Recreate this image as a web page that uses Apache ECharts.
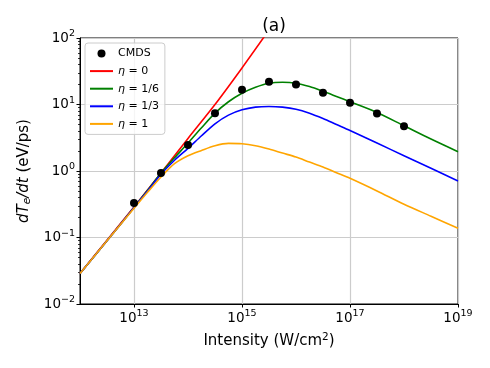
<!DOCTYPE html>
<html>
<head>
<meta charset="utf-8">
<script src="https://cdn.jsdelivr.net/npm/echarts@6/dist/echarts.min.js"></script>
<style>
  html, body { margin: 0; padding: 0; background: #fff; }
  #chart { width: 490px; height: 368px; }
</style>
</head>
<body>
<div id="chart"></div>
<script>
// intensities (W/cm^2) for the model curves, denser around the peaks
const intensity = [1e12, 3.16e12, 1e13, 1.78e13, 3.16e13, 5.62e13, 1e14, 1.78e14,
  3.16e14, 5.62e14, 1e15, 1.78e15, 3.16e15, 5.62e15, 1e16, 1.78e16, 3.16e16,
  5.62e16, 1e17, 3.16e17, 1e18, 3.16e18, 1e19]
const intensityRed = [1e12, 3.16e12, 1e13, 3.16e13, 1e14, 3.16e14, 1e15, 3.16e15]

// dTe/dt (eV/ps)
const eta0 = [0.0288, 0.0912, 0.288, 0.933, 3.09, 10.0, 35.5, 132]
const eta16 = [0.0288, 0.0891, 0.282, 0.513, 0.933, 1.58, 2.63, 4.47, 7.41, 11.0,
  14.8, 18.2, 20.9, 21.6, 20.9, 18.6, 15.8, 13.2, 11.0, 7.59, 4.79, 3.02, 1.95]
const eta13 = [0.0288, 0.0891, 0.282, 0.501, 0.891, 1.45, 2.19, 3.39, 5.13, 6.92,
  8.32, 9.12, 9.33, 9.12, 8.51, 7.41, 6.17, 5.01, 4.07, 2.63, 1.70, 1.10, 0.708]
const eta1 = [0.0288, 0.0891, 0.275, 0.479, 0.813, 1.29, 1.70, 2.04, 2.40, 2.60,
  2.57, 2.40, 2.14, 1.86, 1.62, 1.36, 1.15, 0.944, 0.776, 0.501, 0.316, 0.209, 0.138]

const cmdsX = [1e13, 3.16e13, 1e14, 3.16e14, 1e15, 3.16e15, 1e16, 3.16e16, 1e17, 3.16e17, 1e18]
const cmdsY = [0.33, 0.93, 2.46, 7.4, 16.6, 22, 20, 15, 10.6, 7.3, 4.7]

const xTicks = [1e13, 1e15, 1e17, 1e19]
const names = ['CMDS', 'η = 0', 'η = 1/6', 'η = 1/3', 'η = 1']
const colors = ['#000000', '#ff0000', '#008000', '#0000ff', '#ffa500']

// minor ticks of the y axis at 2..9 of every decade
const yMinorTicks = []
for (let k = -2; k < 2; k++) {
  for (let m = 2; m < 10; m++) yMinorTicks.push(m * Math.pow(10, k))
}

const font = 'DejaVu Sans'
const pair = (xs, ys) => ys.map((y, i) => [xs[i], y])

const powLabel = v => {
  const e = Math.round(Math.log10(v))
  return '{b|10}{s|' + (e < 0 ? '\u2212' + (-e) : e) + '}'
}
const powRich = {
  b: { fontFamily: font, fontSize: 13.5, color: '#000' },
  s: { fontFamily: font, fontSize: 9.5, color: '#000', padding: [0, 0, 8, 0] }
}

const lineSeries = (name, data, color) => ({
  name,
  type: 'line',
  data,
  symbol: 'none',
  smooth: 0.3,
  clip: true,
  z: 3,
  lineStyle: { color, width: 1.6 },
  itemStyle: { color }
})

// line entries in the legend show only the stroke, no marker
const legendData = names.map((name, i) => i === 0
  ? { name }
  : { name, itemStyle: { color: 'rgba(0,0,0,0)', borderWidth: 0 } })

const option = {
  animation: false,
  backgroundColor: '#fff',
  textStyle: { fontFamily: font },
  title: {
    text: '(a)',
    left: 269,
    top: 13,
    textAlign: 'center',
    textStyle: { fontFamily: font, fontSize: 17, fontWeight: 'normal', color: '#000' }
  },
  grid: {
    left: 80, right: 32, top: 38, bottom: 64,
    show: true, borderColor: '#000', borderWidth: 1
  },
  legend: {
    data: legendData,
    orient: 'vertical',
    left: 85,
    top: 43,
    padding: [5, 6, 5, 4],
    itemWidth: 23,
    itemHeight: 8,
    itemGap: 6.6,
    borderColor: '#cccccc',
    borderWidth: 1,
    borderRadius: 3,
    backgroundColor: 'rgba(255,255,255,0.8)',
    formatter: n => n.replace('η', '{i|η}'),
    textStyle: {
      fontFamily: font, fontSize: 11, color: '#000', lineHeight: 10,
      rich: { i: { fontFamily: font, fontSize: 11, fontStyle: 'italic', color: '#000' } }
    }
  },
  xAxis: {
    type: 'log',
    logBase: 10,
    min: 1e12,
    max: 1e19,
    name: 'Intensity (W/cm{s|2})',
    nameLocation: 'middle',
    nameGap: 28,
    nameTextStyle: {
      fontFamily: font, fontSize: 15, color: '#000',
      rich: { s: { fontFamily: font, fontSize: 10.5, color: '#000', padding: [0, 0, 8, 0] } }
    },
    axisLine: { lineStyle: { color: '#000', width: 1 } },
    axisTick: { length: 3.5, lineStyle: { color: '#000' }, customValues: xTicks },
    axisLabel: { margin: 5, formatter: powLabel, rich: powRich, customValues: xTicks },
    splitLine: { show: true, lineStyle: { color: '#cccccc', width: 1.2 } }
  },
  yAxis: [
    {
      type: 'log',
      logBase: 10,
      min: 1e-2,
      max: 1e2,
      interval: 1,
      name: '{i|dT}{si|e}{i|/dt} (eV/ps)',
      nameLocation: 'middle',
      nameGap: 46,
      nameRotate: 90,
      nameTextStyle: {
        fontFamily: font, fontSize: 15, color: '#000',
        rich: {
          i: { fontFamily: font, fontSize: 15, fontStyle: 'italic', color: '#000' },
          si: { fontFamily: font, fontSize: 10.5, fontStyle: 'italic', color: '#000', padding: [6, 0, 0, 0] }
        }
      },
      axisLine: { lineStyle: { color: '#000', width: 1 } },
      axisTick: { length: 3.5, lineStyle: { color: '#000' } },
      axisLabel: { margin: 5, formatter: powLabel, rich: powRich },
      splitLine: { show: true, lineStyle: { color: '#cccccc', width: 1.2 } }
    },
    {
      // second left axis only carries the minor ticks
      type: 'log',
      logBase: 10,
      min: 1e-2,
      max: 1e2,
      position: 'left',
      offset: 0,
      axisLine: { show: false },
      axisTick: { length: 2, lineStyle: { color: '#000', width: 0.8 }, customValues: yMinorTicks },
      axisLabel: { show: false },
      splitLine: { show: false }
    }
  ],
  series: [
    {
      name: names[0],
      type: 'scatter',
      data: pair(cmdsX, cmdsY),
      symbol: 'circle',
      symbolSize: 8,
      z: 5,
      itemStyle: { color: colors[0], opacity: 1 }
    },
    lineSeries(names[1], pair(intensityRed, eta0), colors[1]),
    lineSeries(names[2], pair(intensity, eta16), colors[2]),
    lineSeries(names[3], pair(intensity, eta13), colors[3]),
    lineSeries(names[4], pair(intensity, eta1), colors[4])
  ]
}

const chart = echarts.init(document.getElementById('chart'), null, { renderer: 'canvas' })
chart.setOption(option)
</script>
</body>
</html>
